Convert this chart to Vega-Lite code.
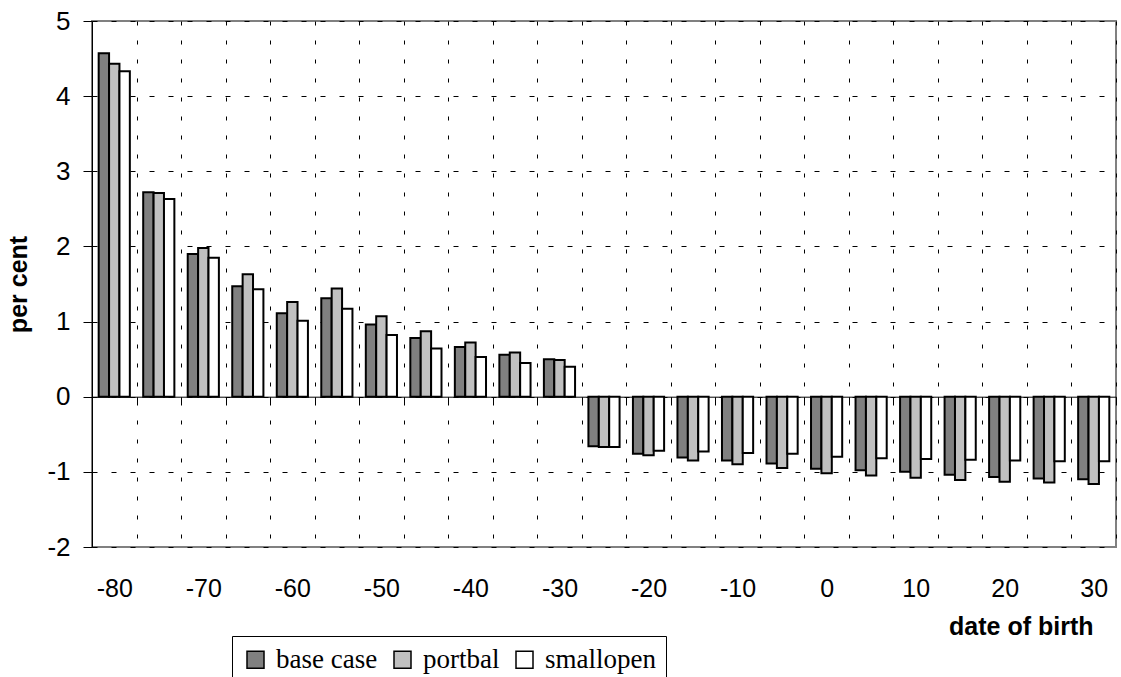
{
  "$schema": "https://vega.github.io/schema/vega-lite/v6.json",
  "autosize": {"type": "none"},
  "padding": {"left": 92, "top": 21, "right": 5, "bottom": 130},
  "width": 1024,
  "height": 526,
  "background": "white",
  "config": {
    "view": {"stroke": "#808080", "strokeWidth": 2},
    "font": "Liberation Sans"
  },
  "data": {
    "values": [
      {"dob": -80, "scenario": "base case", "value": 4.57},
      {"dob": -80, "scenario": "portbal", "value": 4.43},
      {"dob": -80, "scenario": "smallopen", "value": 4.33},
      {"dob": -75, "scenario": "base case", "value": 2.72},
      {"dob": -75, "scenario": "portbal", "value": 2.71},
      {"dob": -75, "scenario": "smallopen", "value": 2.63},
      {"dob": -70, "scenario": "base case", "value": 1.90},
      {"dob": -70, "scenario": "portbal", "value": 1.98},
      {"dob": -70, "scenario": "smallopen", "value": 1.85},
      {"dob": -65, "scenario": "base case", "value": 1.47},
      {"dob": -65, "scenario": "portbal", "value": 1.63},
      {"dob": -65, "scenario": "smallopen", "value": 1.43},
      {"dob": -60, "scenario": "base case", "value": 1.11},
      {"dob": -60, "scenario": "portbal", "value": 1.26},
      {"dob": -60, "scenario": "smallopen", "value": 1.01},
      {"dob": -55, "scenario": "base case", "value": 1.31},
      {"dob": -55, "scenario": "portbal", "value": 1.44},
      {"dob": -55, "scenario": "smallopen", "value": 1.17},
      {"dob": -50, "scenario": "base case", "value": 0.96},
      {"dob": -50, "scenario": "portbal", "value": 1.07},
      {"dob": -50, "scenario": "smallopen", "value": 0.82},
      {"dob": -45, "scenario": "base case", "value": 0.78},
      {"dob": -45, "scenario": "portbal", "value": 0.87},
      {"dob": -45, "scenario": "smallopen", "value": 0.64},
      {"dob": -40, "scenario": "base case", "value": 0.66},
      {"dob": -40, "scenario": "portbal", "value": 0.72},
      {"dob": -40, "scenario": "smallopen", "value": 0.53},
      {"dob": -35, "scenario": "base case", "value": 0.56},
      {"dob": -35, "scenario": "portbal", "value": 0.59},
      {"dob": -35, "scenario": "smallopen", "value": 0.45},
      {"dob": -30, "scenario": "base case", "value": 0.50},
      {"dob": -30, "scenario": "portbal", "value": 0.49},
      {"dob": -30, "scenario": "smallopen", "value": 0.40},
      {"dob": -25, "scenario": "base case", "value": -0.66},
      {"dob": -25, "scenario": "portbal", "value": -0.67},
      {"dob": -25, "scenario": "smallopen", "value": -0.67},
      {"dob": -20, "scenario": "base case", "value": -0.76},
      {"dob": -20, "scenario": "portbal", "value": -0.78},
      {"dob": -20, "scenario": "smallopen", "value": -0.72},
      {"dob": -15, "scenario": "base case", "value": -0.81},
      {"dob": -15, "scenario": "portbal", "value": -0.85},
      {"dob": -15, "scenario": "smallopen", "value": -0.73},
      {"dob": -10, "scenario": "base case", "value": -0.85},
      {"dob": -10, "scenario": "portbal", "value": -0.90},
      {"dob": -10, "scenario": "smallopen", "value": -0.75},
      {"dob": -5, "scenario": "base case", "value": -0.89},
      {"dob": -5, "scenario": "portbal", "value": -0.95},
      {"dob": -5, "scenario": "smallopen", "value": -0.76},
      {"dob": 0, "scenario": "base case", "value": -0.96},
      {"dob": 0, "scenario": "portbal", "value": -1.02},
      {"dob": 0, "scenario": "smallopen", "value": -0.80},
      {"dob": 5, "scenario": "base case", "value": -0.98},
      {"dob": 5, "scenario": "portbal", "value": -1.05},
      {"dob": 5, "scenario": "smallopen", "value": -0.82},
      {"dob": 10, "scenario": "base case", "value": -1.00},
      {"dob": 10, "scenario": "portbal", "value": -1.08},
      {"dob": 10, "scenario": "smallopen", "value": -0.83},
      {"dob": 15, "scenario": "base case", "value": -1.04},
      {"dob": 15, "scenario": "portbal", "value": -1.11},
      {"dob": 15, "scenario": "smallopen", "value": -0.84},
      {"dob": 20, "scenario": "base case", "value": -1.07},
      {"dob": 20, "scenario": "portbal", "value": -1.13},
      {"dob": 20, "scenario": "smallopen", "value": -0.85},
      {"dob": 25, "scenario": "base case", "value": -1.09},
      {"dob": 25, "scenario": "portbal", "value": -1.14},
      {"dob": 25, "scenario": "smallopen", "value": -0.86},
      {"dob": 30, "scenario": "base case", "value": -1.10},
      {"dob": 30, "scenario": "portbal", "value": -1.16},
      {"dob": 30, "scenario": "smallopen", "value": -0.86}
    ]
  },
  "mark": {"type": "bar", "stroke": "black", "strokeWidth": 2},
  "encoding": {
    "x": {
      "field": "dob",
      "type": "ordinal",
      "scale": {"paddingInner": 0, "paddingOuter": 0},
      "axis": {
        "title": "date of birth",
        "offset": -150.3,
        "domainColor": "black",
        "domainWidth": 1,
        "ticks": true,
        "tickColor": "black",
        "tickSize": 7,
        "tickBand": "extent",
        "labelAngle": 0,
        "labelFontSize": 25,
        "labelColor": "black",
        "labelBaseline": "alphabetic",
        "labelPadding": 193,
        "labelOverlap": false,
        "labelExpr": "datum.value % 10 === 0 ? '' + datum.value : ''",
        "grid": true,
        "gridColor": "black",
        "gridDash": [4, 15],
        "gridWidth": 1,
        "titleFontSize": 25,
        "titleFontWeight": "bold",
        "titleColor": "black",
        "titleX": 1001,
        "titleY": 238,
        "titleAlign": "right",
        "titleBaseline": "alphabetic"
      }
    },
    "xOffset": {
      "field": "scenario",
      "type": "nominal",
      "sort": ["base case", "portbal", "smallopen"],
      "scale": {"paddingInner": 0, "paddingOuter": 0.643}
    },
    "y": {
      "field": "value",
      "type": "quantitative",
      "scale": {"domain": [-2, 5], "nice": false, "zero": false},
      "axis": {
        "title": "per cent",
        "values": [-2, -1, 0, 1, 2, 3, 4, 5],
        "labelExpr": "'' + datum.value",
        "domainColor": "black",
        "domainWidth": 1,
        "tickColor": "black",
        "tickSize": 9,
        "labelFontSize": 26,
        "labelColor": "black",
        "labelPadding": 13,
        "grid": true,
        "gridColor": "black",
        "gridDash": [5, 14],
        "gridWidth": 1,
        "titleFontSize": 25,
        "titleFontWeight": "bold",
        "titleColor": "black",
        "titleAngle": -90,
        "titleX": -74,
        "titleY": 263,
        "titleAlign": "center",
        "titleBaseline": "middle"
      }
    },
    "fill": {
      "field": "scenario",
      "type": "nominal",
      "scale": {
        "domain": ["base case", "portbal", "smallopen"],
        "range": ["#808080", "#c0c0c0", "#ffffff"]
      },
      "legend": {
        "orient": "none",
        "legendX": 140,
        "legendY": 615,
        "direction": "horizontal",
        "title": null,
        "symbolType": "square",
        "symbolSize": 289,
        "symbolStrokeColor": "black",
        "symbolStrokeWidth": 1.5,
        "labelFont": "Liberation Serif",
        "labelFontSize": 27,
        "labelColor": "black",
        "labelOffset": 7,
        "columnPadding": 11,
        "strokeColor": "black",
        "padding": 10,
        "fillColor": "white"
      }
    }
  }
}
